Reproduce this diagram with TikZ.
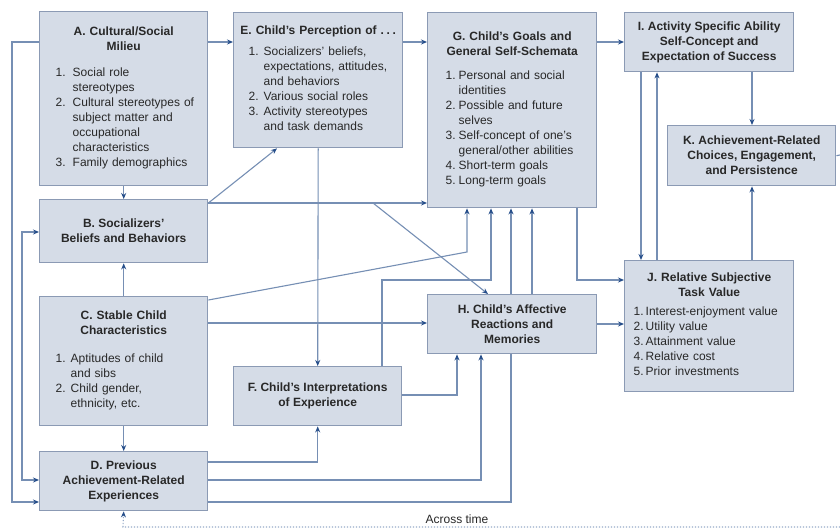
\documentclass[tikz,border=0pt]{standalone}
\usepackage{fontspec}
\setmainfont{Liberation Sans}
\usetikzlibrary{arrows.meta,backgrounds}

\definecolor{boxfill}{RGB}{213,220,231}
\definecolor{boxedge}{RGB}{139,154,180}
\definecolor{wirec}{RGB}{118,143,180}
\definecolor{dotc}{RGB}{150,170,200}
\definecolor{tipc}{RGB}{38,78,138}
\definecolor{ink}{RGB}{40,40,40}

% centred bold heading line inside a list box
\newcommand\ttl[1]{\makebox[\linewidth]{\bfseries #1}}

\tikzset{
  box/.style={draw=boxedge, fill=boxfill, line width=1.4pt, inner sep=0pt,
              anchor=north west, text=ink,
              font=\fontsize{12}{15}\selectfont, align=center},
  listbox/.style={box, align=left},
  wire/.style={draw=wirec, line width=1.1pt},
  arr/.style={wire, -{Stealth[length=6pt,width=5pt,color=tipc]}},
  biarr/.style={wire, {Stealth[length=6pt,width=5pt,color=tipc]}-{Stealth[length=6pt,width=5pt,color=tipc]}},
}

\begin{document}
\begin{tikzpicture}[x=1pt,y=-1pt]
\useasboundingbox (0,0) rectangle (840,532);
\begin{scope}[on background layer]
  \fill[white] (0,0) rectangle (840,532);
\end{scope}

% ---------------- boxes ----------------
\node[listbox, text width=136pt, minimum width=168, minimum height=174] (A) at (39,11) {%
  \ttl{A. Cultural/Social}\\ \ttl{Milieu}\\[11pt]
  \begin{tabular}[t]{@{}p{17pt}@{}l@{}}
  1. & Social role\\ & stereotypes\\
  2. & Cultural stereotypes of\\ & subject matter and\\ & occupational\\ & characteristics\\
  3. & Family demographics
  \end{tabular}};

\node[listbox, text width=139pt, minimum width=169, minimum height=135] (E) at (233,12) {%
  \ttl{E. Child's Perception of .\kern2.6pt.\kern2.6pt.}\\[6pt]
  \begin{tabular}[t]{@{}p{15pt}@{}l@{}}
  1. & Socializers' beliefs,\\ & expectations, attitudes,\\ & and behaviors\\
  2. & Various social roles\\
  3. & Activity stereotypes\\ & and task demands
  \end{tabular}};

\node[listbox, text width=133pt, minimum width=169, minimum height=195] (G) at (427,12) {%
  \ttl{G. Child's Goals and}\\ \ttl{General Self-Schemata}\\[9pt]
  \begin{tabular}[t]{@{}p{13pt}@{}l@{}}
  1. & Personal and social\\ & identities\\
  2. & Possible and future\\ & selves\\
  3. & Self-concept of one's\\ & general/other abilities\\
  4. & Short-term goals\\
  5. & Long-term goals
  \end{tabular}};

\node[box, minimum width=169, minimum height=59] (I) at (624,12)
  {\bfseries I. Activity Specific Ability\\ \bfseries Self-Concept and\\ \bfseries Expectation of Success};

\node[box, minimum width=168, minimum height=60] (K) at (667,125)
  {\bfseries K. Achievement-Related\\ \bfseries Choices, Engagement,\\ \bfseries and Persistence};

\node[box, minimum width=168, minimum height=63] (B) at (39,199)
  {\bfseries B. Socializers'\\ \bfseries Beliefs and Behaviors};

\node[listbox, text width=136pt, minimum width=168, minimum height=129] (C) at (39,296) {%
  \ttl{C. Stable Child}\\ \ttl{Characteristics}\\[13pt]
  \begin{tabular}[t]{@{}p{15pt}@{}l@{}}
  1. & Aptitudes of child\\ & and sibs\\
  2. & Child gender,\\ & ethnicity, etc.
  \end{tabular}};

\node[box, minimum width=168, minimum height=59] (D) at (39,451)
  {\bfseries D. Previous\\ \bfseries Achievement-Related\\ \bfseries Experiences};

\node[box, minimum width=168, minimum height=59] (F) at (233,366)
  {\bfseries F. Child's Interpretations\\ \bfseries of Experience};

\node[box, minimum width=169, minimum height=59] (H) at (427,294)
  {\bfseries H. Child's Affective\\ \bfseries Reactions and\\ \bfseries Memories};

\node[listbox, text width=151pt, minimum width=169, minimum height=131] (J) at (624,260) {%
  \ttl{J. Relative Subjective}\\ \ttl{Task Value}\\[4pt]
  \begin{tabular}[t]{@{}p{12pt}@{}l@{}}
  1. & Interest-enjoyment value\\
  2. & Utility value\\
  3. & Attainment value\\
  4. & Relative cost\\
  5. & Prior investments
  \end{tabular}};

\node[text=ink, font=\fontsize{12}{14}\selectfont] (timelbl) at (457,519) {Across time};

% ---------------- connectors ----------------
\begin{scope}[on background layer]
  % left column
  \draw[arr] (A.south) -- (B.north);
  \draw[arr] (C.north) -- (B.south);
  \draw[arr] (C.south) -- (D.north);
  % top row
  \draw[arr] (A.east |- 0,42) -- (E.west |- 0,42);
  \draw[arr] (E.east |- 0,42) -- (G.west |- 0,42);
  \draw[arr] (G.east |- 0,42) -- (I.west |- 0,42);
  % expectancy, value and choice
  \draw[arr] (I.south -| 752,0) -- (K.north -| 752,0);
  \draw[arr] (J.north -| 752,0) -- (K.south -| 752,0);
  \draw[arr] (I.south -| 641,0) -- (J.north -| 641,0);
  \draw[arr] (J.north -| 657,0) -- (I.south -| 657,0);
  \draw[arr] (G.south -| 577,0) |- (J.west |- 0,280);
  \draw[arr] (H.east |- 0,324) -- (J.west |- 0,324);
  \coordinate (kout) at (840,155);
  \draw[wire] (K.east) -- (kout);
  % feedback loops on the left
  \coordinate (la1) at (12,42);
  \coordinate (la2) at (12,502);
  \draw[arr] (A.west |- la1) -- (la1) -- (la2) -- (D.west |- la2);
  \coordinate (lb1) at (22,232);
  \coordinate (lb2) at (22,480);
  \draw[biarr] (B.west |- lb1) -- (lb1) -- (lb2) -- (D.west |- lb2);
  % socializers
  \coordinate (bo) at (B.east |- 0,203);
  \coordinate (bh) at (373,203);
  \draw[arr] (bo) -- (E.south -| 277,0);
  \draw[arr] (bo) -- (G.west |- bo);
  \draw[arr] (bh) -- (H.north -| 488,0);
  % perception to interpretation
  \draw[arr] (E.south) -- (F.north);
  % stable characteristics
  \coordinate (cg) at (467,252);
  \draw[arr] (C.east |- 0,300) -- (cg) -- (G.south -| cg);
  \draw[arr] (C.east |- 0,323) -- (H.west |- 0,323);
  % interpretations
  \coordinate (fg) at (491,280);
  \draw[arr] (F.north -| 382,0) |- (fg) -- (G.south -| fg);
  \draw[arr] (F.east |- 0,395) -| (H.south -| 457,0);
  % previous experiences
  \draw[arr] (D.east |- 0,462) -| (F.south);
  \draw[arr] (D.east |- 0,480) -| (H.south -| 481,0);
  \draw[arr] (D.east |- 0,502) -| (G.south -| 511,0);
  % affect to goals
  \draw[arr] (H.north -| 532,0) -- (G.south -| 532,0);
  % across time
  \coordinate (tend) at (840,527);
  \coordinate (tcorner) at (123,527);
  \draw[draw=dotc, line width=1.1pt, dash pattern=on 1.2pt off 1.8pt,
        -{Stealth[length=6pt,width=5pt,color=tipc]}]
    (tend) -- (tcorner) -- (D.south);
\end{scope}
\end{tikzpicture}
\end{document}
